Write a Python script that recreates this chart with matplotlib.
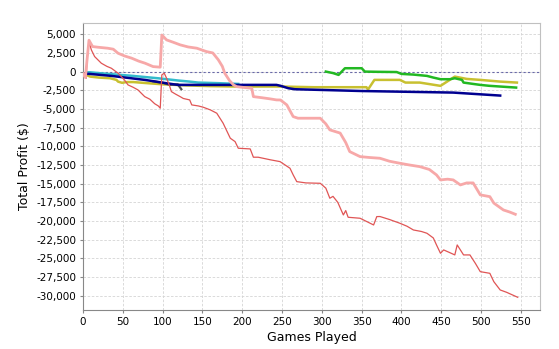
import matplotlib
matplotlib.use("Agg")
import matplotlib.pyplot as plt
from matplotlib.ticker import FuncFormatter, MultipleLocator

# cumulative profit per player, sampled at the points where the curve turns
pink_x = [0, 3, 5, 7.5, 12, 19, 31, 38, 44, 52, 61, 70, 78, 88, 97, 99, 105, 114, 122, 132,
          143, 155, 163, 170, 175, 178, 184, 189, 193, 200, 212, 214, 225, 235, 243, 248, 256,
          264, 270, 298, 305, 310, 316, 323, 330, 335, 348, 360, 373, 385, 398, 410, 423, 435,
          444, 449, 458, 465, 474, 482, 490, 499, 511, 516, 528, 536, 543]
pink_y = [-300, -800, 1500, 4200, 3350, 3260, 3130, 3000, 2460, 2100, 1800, 1400, 1120, 670,
          590, 4900, 4240, 3900, 3580, 3300, 3130, 2680, 2500, 1570, 700, -210, -1200, -1780,
          -2010, -2100, -2230, -3350, -3500, -3650, -3790, -3800, -4460, -6025, -6240, -6240,
          -7000, -7800, -8000, -8230, -9500, -10710, -11380, -11500, -11600, -12000, -12270,
          -12500, -12720, -13100, -13830, -14500, -14400, -14500, -15170, -14900, -14900,
          -16500, -16740, -17600, -18520, -18800, -19100]

red_x = [0, 2, 4, 5, 7.5, 10.5, 14.6, 23, 30, 35.6, 44, 52, 56.5, 63, 69, 77.5, 84, 90, 94.6,
         97, 99, 102, 105, 109, 111, 116, 122, 126, 134, 136.6, 145, 151, 160, 168, 176, 181,
         185, 191, 195, 210, 214, 220, 235, 247.5, 260, 264, 268.5, 280, 298, 305, 310, 314,
         320, 327, 330, 333, 348, 365, 369, 373, 385, 398, 407, 415, 425, 432, 440, 444, 449,
         453, 460, 467, 470, 478, 486, 493, 499, 511, 516, 524, 532, 546]
red_y = [-500, -200, -900, 1500, 4000, 2900, 2010, 1120, 700, 450, -210, -1110, -1780, -2100,
         -2450, -3350, -3700, -4300, -4600, -4900, -440, -210, -890, -2000, -2680, -3000,
         -3350, -3600, -3790, -4460, -4600, -4770, -5130, -5570, -6910, -8030, -8920, -9370,
         -10260, -10350, -11460, -11460, -11800, -12050, -12940, -13830, -14730, -14900,
         -14950, -15600, -16950, -16700, -17500, -19190, -18600, -19500, -19630, -20530,
         -19410, -19400, -19800, -20300, -20700, -21200, -21400, -21640, -22270, -23200,
         -24320, -23870, -24200, -24540, -23200, -24540, -24540, -25700, -26780, -27000,
         -28120, -29230, -29540, -30210]

green_x = [305, 314, 321, 329, 340, 350, 354, 370, 394, 400, 415, 432, 440, 449, 461, 467,
           476, 478, 490, 499, 510, 524, 544]
green_y = [0, -200, -440, 450, 450, 450, 0, -30, -60, -310, -400, -575, -800, -1020, -1020,
           -890, -1110, -1470, -1650, -1780, -1900, -2000, -2140]

yellow_x = [5, 9, 20, 34, 42, 44, 49, 55, 63, 82, 100, 130, 160, 190, 220, 247.5, 290, 356,
            358, 366, 398, 405, 423, 449, 467, 482, 499, 524, 545]
yellow_y = [-500, -670, -800, -890, -1110, -1340, -1500, -1400, -1400, -1560, -1700, -1850,
            -1950, -2000, -2000, -2000, -2090, -2090, -2400, -1110, -1110, -1470, -1470,
            -1910, -670, -980, -1110, -1340, -1470]

navy_x = [5, 8.4, 35.6, 77.5, 105, 119, 126, 189, 243, 248, 258, 266, 350, 465, 524]
navy_y = [-300, -310, -575, -1110, -1560, -1780, -1780, -1780, -1780, -1900, -2230, -2360,
          -2600, -2810, -3210]

cyan_x = [5, 8.4, 30, 60, 94, 120, 134, 144.5, 170, 195]
cyan_y = [-100, -90, -300, -550, -890, -1200, -1340, -1470, -1550, -1650]

gray_x = [88, 100, 109, 119, 123.5]
gray_y = [-1300, -1500, -1780, -1700, -2360]

fig = plt.figure(figsize=(5.59, 3.49), dpi=100)
ax = fig.add_axes([0.1485, 0.112, 0.8175, 0.822])

ax.axhline(0, color="#6a6aa8", lw=0.8, ls=(0, (2, 2)), zorder=1)

ax.plot(cyan_x, cyan_y, color="#33bbcc", lw=1.8, zorder=2)
ax.plot(yellow_x, yellow_y, color="#c8c030", lw=1.8, zorder=3)
ax.plot(gray_x, gray_y, color="#505050", lw=1.6, zorder=3)
ax.plot(navy_x, navy_y, color="#000090", lw=1.8, zorder=4)
ax.plot(green_x, green_y, color="#22b822", lw=1.8, zorder=4)
ax.plot(red_x, red_y, color="#e05555", lw=0.9, zorder=5)
ax.plot(pink_x, pink_y, color="#f7a8a8", lw=2.0, zorder=6)

ax.set_xlim(0, 574)
ax.set_ylim(-31900, 6500)
ax.xaxis.set_major_locator(MultipleLocator(50))
ax.yaxis.set_major_locator(MultipleLocator(2500))
ax.yaxis.set_major_formatter(FuncFormatter(lambda v, p: f"{int(v):,}"))

ax.grid(True, color="#d4d4d4", lw=0.6, ls=(0, (3, 2)))
ax.set_axisbelow(True)
for side in ["left", "bottom"]:
    ax.spines[side].set_color("#888888")
for side in ["top", "right"]:
    ax.spines[side].set_color("#c0c0c0")
ax.tick_params(labelsize=7.5, length=2, color="#888888", pad=3)

ax.set_xlabel("Games Played", fontsize=9, labelpad=3)
ax.set_ylabel("Total Profit ($)", fontsize=9, labelpad=4)

plt.savefig("out.png", dpi=100)
plt.close()
